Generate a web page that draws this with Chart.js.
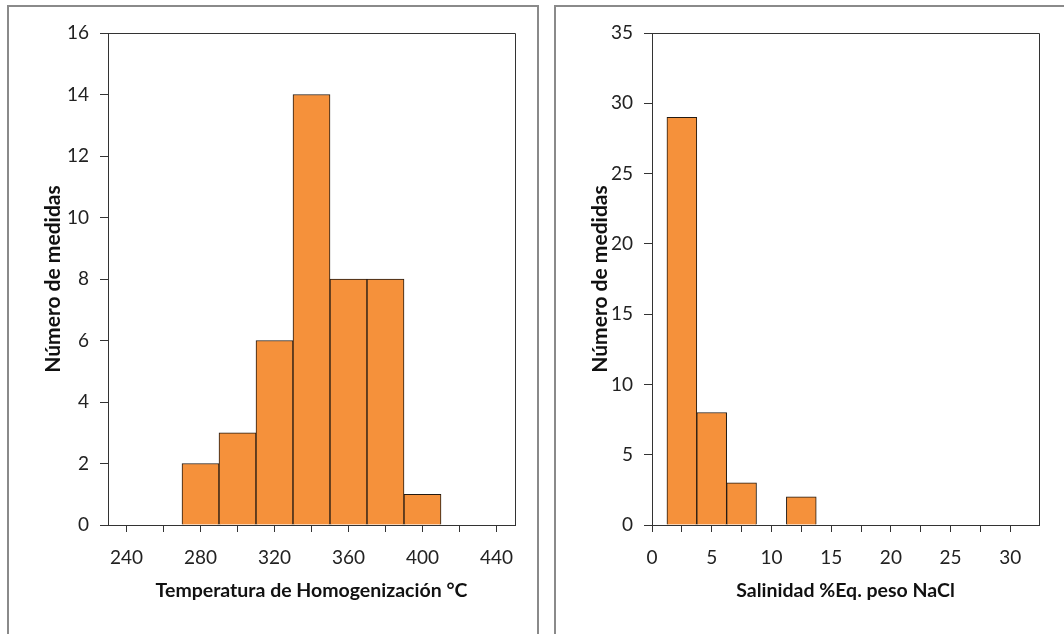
<!DOCTYPE html>
<html>
<head>
<meta charset="utf-8">
<script src="https://cdn.jsdelivr.net/npm/chart.js@4"></script>
<style>
  body { margin: 0; background: #fff; width: 1064px; height: 634px; overflow: hidden; position: relative; }
  .panel { position: absolute; top: 5px; height: 700px; border: 2px solid #8a8a8a; box-sizing: border-box; background: #fff; }
  .box { position: absolute; }
</style>
</head>
<body>
<div class="panel" style="left:7px; width:532px;"></div>
<div class="panel" style="left:554px; width:600px;"></div>
<div class="box" style="left:10px; top:8px; width:526px; height:626px;"><canvas id="tempChart"></canvas></div>
<div class="box" style="left:557px; top:8px; width:507px; height:626px;"><canvas id="salChart"></canvas></div>
<script>
// Temperatura de homogenización (bins of 20 °C, centres)
const tempBins = [280, 300, 320, 340, 360, 380, 400];
const tempCounts = [2, 3, 6, 14, 8, 8, 1];
const tempTicks = [240, 260, 280, 300, 320, 340, 360, 380, 400, 420, 440];
const tempLabelStep = 40;

// Salinidad (bins of 2.5 %, centres)
const salBins = [2.5, 5, 7.5, 10, 12.5];
const salCounts = [29, 8, 3, 0, 2];
const salTicks = [0, 2.5, 5, 7.5, 10, 12.5, 15, 17.5, 20, 22.5, 25, 27.5, 30];
const salLabelStep = 5;

const barFill = '#F5913B';
const barLine = '#231a12';
const axisColor = '#333';
const font = "Lato, 'Open Sans', sans-serif";

// top and right edges of the plot box
const plotBox = {
    id: 'plotBox',
    afterDraw(chart) {
        const ctx = chart.ctx;
        const a = chart.chartArea;
        ctx.save();
        ctx.strokeStyle = axisColor;
        ctx.lineWidth = 1;
        ctx.beginPath();
        ctx.moveTo(Math.round(a.left) + 0.5, Math.round(a.top) + 0.5);
        ctx.lineTo(Math.round(a.right) + 0.5, Math.round(a.top) + 0.5);
        ctx.lineTo(Math.round(a.right) + 0.5, Math.round(a.bottom) + 0.5);
        ctx.stroke();
        ctx.restore();
    }
};

function makeHist(id, bins, counts, xTicks, labelStep, xMin, xMax, yMax, yStep, xTitle, yWidth, pad) {
    new Chart(document.getElementById(id), {
        type: 'bar',
        data: {
            datasets: [{
                data: bins.map((b, i) => ({ x: b, y: counts[i] })),
                backgroundColor: barFill,
                borderColor: barLine,
                borderWidth: 1,
                barPercentage: 1,
                categoryPercentage: 1
            }]
        },
        options: {
            responsive: true,
            maintainAspectRatio: false,
            animation: false,
            layout: { padding: pad },
            plugins: { legend: { display: false }, tooltip: { enabled: false } },
            scales: {
                x: {
                    type: 'linear',
                    min: xMin,
                    max: xMax,
                    offset: false,
                    afterBuildTicks: scale => { scale.ticks = xTicks.map(v => ({ value: v })); },
                    afterFit: scale => { scale.height = 81; },
                    grid: { offset: false, drawOnChartArea: false, drawTicks: true, tickLength: 7, color: axisColor },
                    border: { color: axisColor },
                    ticks: {
                        autoSkip: false,
                        maxRotation: 0,
                        padding: 14,
                        color: '#222',
                        font: { family: font, size: 19 },
                        callback: v => (Math.abs(v % labelStep) < 1e-9 ? v : '')
                    },
                    title: {
                        display: true,
                        text: xTitle,
                        color: '#111',
                        font: { family: font, size: 19.5, weight: 'bold' }
                    }
                },
                y: {
                    min: 0,
                    max: yMax,
                    afterFit: scale => { scale.width = yWidth; },
                    grid: { drawOnChartArea: false, drawTicks: true, tickLength: 8, color: axisColor },
                    border: { color: axisColor },
                    ticks: {
                        stepSize: yStep,
                        padding: 11,
                        color: '#222',
                        font: { family: font, size: 19 }
                    },
                    title: {
                        display: true,
                        text: 'Número de medidas',
                        color: '#111',
                        font: { family: font, size: 21, weight: 'bold' }
                    }
                }
            }
        },
        plugins: [plotBox]
    });
}

makeHist('tempChart', tempBins, tempCounts, tempTicks, tempLabelStep, 230, 450, 16, 2,
    'Temperatura de Homogenización °C', 71, { left: 27, right: 21, top: 25, bottom: 28 });
makeHist('salChart', salBins, salCounts, salTicks, salLabelStep, 0, 32.4, 35, 5,
    'Salinidad %Eq. peso NaCl', 68, { left: 27, right: 25, top: 25, bottom: 28 });
</script>
</body>
</html>
